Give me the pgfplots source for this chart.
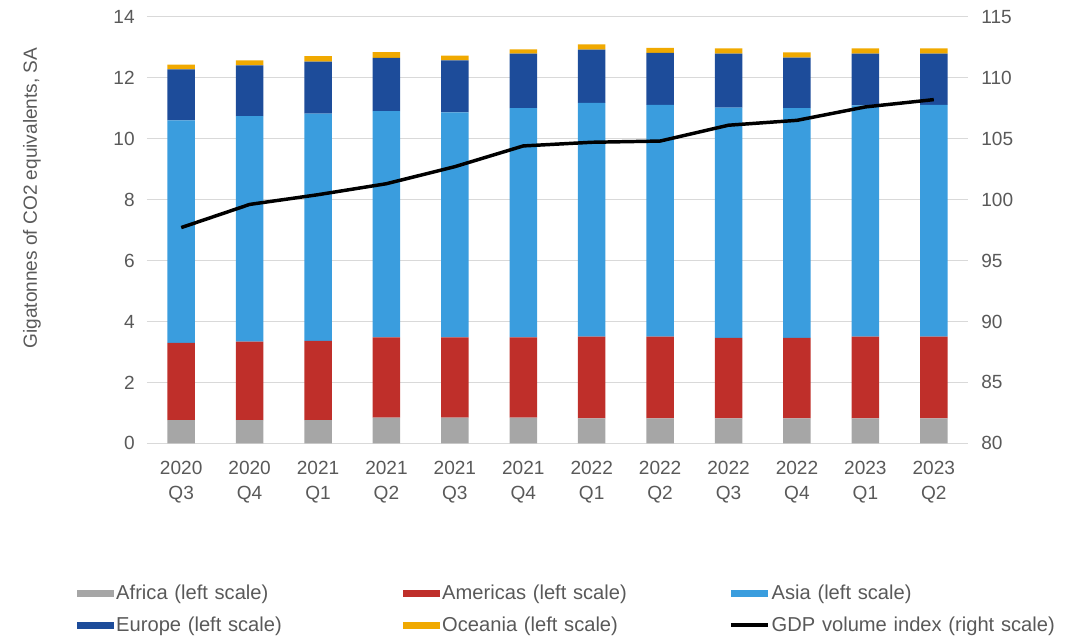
\documentclass[border=0pt]{standalone}
\usepackage{pgfplots}
\pgfplotsset{compat=1.18}
\usepackage{pgfplotstable}
\usepackage{fontspec}
\setmainfont{Liberation Sans}
\definecolor{txt}{HTML}{595959}
\definecolor{gridc}{HTML}{D9D9D9}
\definecolor{afc}{HTML}{A6A6A6}
\definecolor{amc}{HTML}{BF2F2A}
\definecolor{asc}{HTML}{3A9DDE}
\definecolor{euc}{HTML}{1D4C9A}
\definecolor{occ}{HTML}{F0A900}
\pgfplotsset{/pgf/number format/assume math mode=true,
  every axis/.append style={font=\fontsize{14.3}{18.75}\selectfont},
  barlegend/.style={legend image code/.code={\fill[##1] (0pt,-2.6pt) rectangle (27.75pt,2.6pt);}},
  linelegend/.style={legend image code/.code={\draw[##1] (0pt,0pt) -- (27.75pt,0pt);}}}
\pgfplotstableread{
x af am as eu oc gdp
0 0.76 2.54 7.30 1.67 0.16 97.7
1 0.76 2.58 7.40 1.66 0.17 99.6
2 0.76 2.60 7.46 1.71 0.18 100.4
3 0.84 2.64 7.42 1.75 0.19 101.3
4 0.84 2.64 7.38 1.71 0.15 102.7
5 0.84 2.64 7.52 1.79 0.14 104.4
6 0.82 2.68 7.67 1.75 0.17 104.7
7 0.82 2.68 7.61 1.70 0.17 104.8
8 0.82 2.64 7.56 1.77 0.17 106.1
9 0.82 2.64 7.54 1.66 0.17 106.5
10 0.82 2.68 7.59 1.70 0.17 107.6
11 0.82 2.68 7.61 1.68 0.17 108.2
}\data
\begin{document}
\begin{tikzpicture}
\useasboundingbox (-110.25pt,-143.8pt) rectangle (689.25pt,332.5pt);
\begin{axis}[
  scale only axis, width=615.75pt, height=319.95pt,
  xmin=-0.5, xmax=11.5, ymin=0, ymax=14,
  ybar stacked, bar width=20.6pt,
  xtick={0,...,11},
  xticklabels={{2020\\Q3},{2020\\Q4},{2021\\Q1},{2021\\Q2},{2021\\Q3},{2021\\Q4},{2022\\Q1},{2022\\Q2},{2022\\Q3},{2022\\Q4},{2023\\Q1},{2023\\Q2}},
  xticklabel style={align=center, text=txt, yshift=-9.75pt},
  ytick={0,2,...,14},
  yticklabel style={text=txt, xshift=-5.7pt},
  ymajorgrids, grid style={draw=gridc, line width=0.75pt},
  axis line style={draw=none},
  major tick length=0pt,
  ylabel={Gigatonnes of CO2 equivalents, SA},
  ylabel style={at={(axis description cs:-0.14,0.575)}, anchor=center, text=txt},
  legend columns=3,
  legend style={draw=none, fill=none, inner sep=0pt, row sep=7.5pt,
    at={(-0.0853,-0.325)}, anchor=north west,
    font=\fontsize{15.1}{18}\selectfont,
    nodes={text width=213.75pt, align=left, inner xsep=1.5pt, text=txt},
    /tikz/every even column/.append style={column sep=0pt}},
  barlegend,
]
\addplot[fill=afc, draw=none] table[x=x,y=af]{\data};
\addlegendentry{Africa (left scale)}
\addplot[fill=amc, draw=none] table[x=x,y=am]{\data};
\addlegendentry{Americas (left scale)}
\addplot[fill=asc, draw=none] table[x=x,y=as]{\data};
\addlegendentry{Asia (left scale)}
\addplot[fill=euc, draw=none] table[x=x,y=eu]{\data};
\addlegendentry{Europe (left scale)}
\addplot[fill=occ, draw=none] table[x=x,y=oc]{\data};
\addlegendentry{Oceania (left scale)}
\addlegendimage{black, line width=2.6pt, linelegend}
\addlegendentry{GDP volume index (right scale)}
\end{axis}
\begin{axis}[
  scale only axis, width=615.75pt, height=319.95pt,
  xmin=-0.5, xmax=11.5, ymin=80, ymax=115,
  ytick={80,85,...,115},
  axis y line*=right, axis x line=none,
  axis line style={draw=none},
  major tick length=0pt,
  yticklabel style={text=txt, xshift=6.5pt},
]
\addplot[black, line width=2.6pt, line join=round, mark=none] table[x=x,y=gdp]{\data};
\end{axis}
\end{tikzpicture}
\end{document}
